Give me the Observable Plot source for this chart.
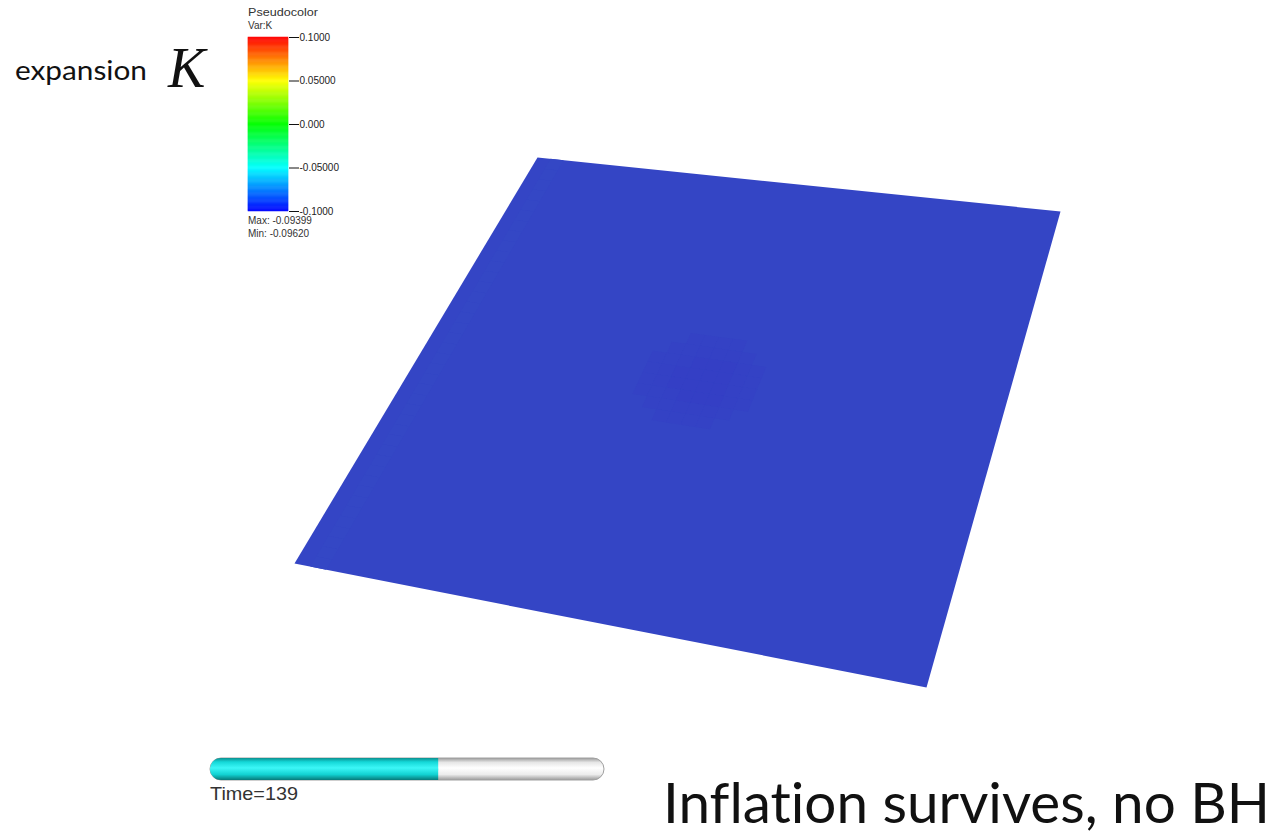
<!DOCTYPE html>
<html><head><meta charset="utf-8">
<script src="https://cdn.jsdelivr.net/npm/d3@7"></script>
<script src="https://cdn.jsdelivr.net/npm/@observablehq/plot@0.6"></script>
<style>
body{margin:0;background:#fff;}
#root{position:relative;width:1282px;height:834px;overflow:hidden;background:#fff;}
#root > *{position:absolute;}
text{font-variant-ligatures:none;font-feature-settings:"liga" 0,"clig" 0,"dlig" 0;}
</style></head><body><div id="root"></div>
<script>
// ---------------- data ----------------
const legendTitle = ["Pseudocolor", "Var:K"];
const legendTicks = [0.1, 0.05, 0, -0.05, -0.1];
const legendTickLabels = ["0.1000", "0.05000", "0.000", "-0.05000", "-0.1000"];
const dataMax = "-0.09399";
const dataMin = "-0.09620";
// K levels used by the grid codes below (0 = background, 1-3 = central dip, 4 = faint stripe)
const kLevels = [-0.09450, -0.09520, -0.09575, -0.09620, -0.09399];
const kGrid = [
"0400000000000000000000000000000000000000",
"0400000000000000000000000000000000000000",
"0400000000000000000000000000000000000000",
"0400000000000000000000000000000000000000",
"0400000000000000000000000000000000000000",
"0400000000000000000000000000000000000000",
"0400000000000000000000000000000000000000",
"0400000000000000000000000000000000000000",
"0400000000000000000000000000000000000000",
"0400000000000000000000000000000000000000",
"0400000000000000000000000000000000000000",
"0400000000000000000000000000000000000000",
"0400000000000000000000000000000000000000",
"0400000000000000000000000000000000000000",
"0400000000000000011110000000000000000000",
"0400000000000000112221000000000000000000",
"0400000000000001123332100000000000000000",
"0400000000000001233332100000000000000000",
"0400000000000001233332100000000000000000",
"0400000000000001123332100000000000000000",
"0400000000000000112221000000000000000000",
"0400000000000000011110000000000000000000",
"0400000000000000000000000000000000000000",
"0400000000000000000000000000000000000000",
"0400000000000000000000000000000000000000",
"0400000000000000000000000000000000000000",
"0400000000000000000000000000000000000000",
"0400000000000000000000000000000000000000",
"0400000000000000000000000000000000000000",
"0400000000000000000000000000000000000000",
"0400000000000000000000000000000000000000",
"0400000000000000000000000000000000000000",
"0400000000000000000000000000000000000000",
"0400000000000000000000000000000000000000",
"0400000000000000000000000000000000000000",
"0400000000000000000000000000000000000000",
"0400000000000000000000000000000000000000",
"0400000000000000000000000000000000000000",
"0400000000000000000000000000000000000000",
"0400000000000000000000000000000000000000"
];
const timeNow = 139;
const timeEnd = 240;
const timeLabel = "Time=139";
const titleWord = "expansion";
const titleSymbol = "K";
const caption = "Inflation survives, no BH";

// ---------------- helpers ----------------
const root = document.getElementById("root");
const hot = d3.piecewise(d3.interpolateRgb, ["#0000ff", "#00ffff", "#00ff00", "#ffff00", "#ff0000"]);
const shaded = t => { const c = d3.rgb(hot(t)); return d3.rgb(52 + 0.57 * c.r, 52 + 0.6 * c.g, 52 + 0.57 * c.b).formatHex(); };

// build features in (u,v) parameter space: full plane at background level, then the other cells
const nRows = kGrid.length, nCols = 40;
const square = (u0, v0, u1, v1) => ({type: "Polygon", coordinates: [[[u0, v0], [u1, v0], [u1, v1], [u0, v1], [u0, v0]]]});
const planeBase = [{type: "Feature", properties: {k: kLevels[0]}, geometry: square(0, 0, 1, 1)}];
const cells = [];
kGrid.forEach((rowStr, r) => {
  const row = rowStr.padEnd(nCols, "0");
  for (let c = 0; c < nCols; c++) {
    if (row[c] === "0") continue;
    cells.push({type: "Feature", properties: {k: kLevels[+row[c]]},
      geometry: square(c / nCols, r / nRows, (c + 1) / nCols, (r + 1) / nRows)});
  }
});

// view of the plane (screen corners of the tilted square)
const view = {tl: [537, 157], tr: [1060, 211], br: [926, 687], bl: [294, 563]};
const planeProjection = d3.geoTransform({
  point(u, v) {
    const a = (1 - u) * (1 - v), b = u * (1 - v), c = u * v, d = (1 - u) * v;
    this.stream.point(a * view.tl[0] + b * view.tr[0] + c * view.br[0] + d * view.bl[0],
                      a * view.tl[1] + b * view.tr[1] + c * view.br[1] + d * view.bl[1]);
  }
});

// ---------------- main surface ----------------
const main = Plot.plot({
  width: 1282, height: 834, margin: 0,
  style: {background: "transparent"},
  projection: planeProjection,
  color: {type: "linear", domain: [-0.1, 0.1], interpolate: shaded},
  marks: [
    Plot.geo(planeBase, {fill: d => d.properties.k}),
    Plot.geo(cells, {fill: d => d.properties.k})
  ]
});
main.style.left = "0px"; main.style.top = "0px";
root.appendChild(main);

// ---------------- colour bar legend ----------------
const rampBands = d3.range(-0.1, 0.1, 0.001).map(v => ({y1: v, y2: v + 0.001}));
const legend = Plot.plot({
  width: 120, height: 250,
  marginLeft: 8, marginRight: 72, marginTop: 37, marginBottom: 39,
  style: {background: "transparent", fontFamily: "'Liberation Sans', Arial, sans-serif", fontSize: "10px", color: "#222"},
  x: {domain: [0, 1], axis: null},
  y: {domain: [-0.1, 0.1]},
  color: {type: "linear", domain: [-0.1, 0.1], interpolate: hot},
  marks: [
    Plot.rect(rampBands, {x1: 0, x2: 1, y1: "y1", y2: "y2", fill: d => (d.y1 + d.y2) / 2, stroke: d => (d.y1 + d.y2) / 2, strokeWidth: 0.5}),
    Plot.axisY(legendTicks, {anchor: "right", tickSize: 10, tickPadding: 1, label: null, stroke: "#111",
      tickFormat: d => legendTickLabels[legendTicks.indexOf(d)], fontSize: 10, fill: "#222"})
  ]
});
legend.style.left = "240px"; legend.style.top = "0px";
root.appendChild(legend);

// ---------------- time slider ----------------
const gradDefs = () => {
  const defs = d3.create("svg:defs");
  const g1 = defs.append("linearGradient").attr("id", "cyanGrad").attr("x1", 0).attr("y1", 0).attr("x2", 0).attr("y2", 1);
  [[0, "#0b8f8f"], [0.18, "#14d8d8"], [0.45, "#3cf7f7"], [0.75, "#12d2d2"], [1, "#077a7a"]].forEach(([o, c]) => g1.append("stop").attr("offset", o).attr("stop-color", c));
  const g2 = defs.append("linearGradient").attr("id", "trackGrad").attr("x1", 0).attr("y1", 0).attr("x2", 0).attr("y2", 1);
  [[0, "#9c9c9c"], [0.2, "#e6e6e6"], [0.45, "#ffffff"], [0.75, "#ececec"], [1, "#9a9a9a"]].forEach(([o, c]) => g2.append("stop").attr("offset", o).attr("stop-color", c));
  return defs.node();
};
const slider = Plot.plot({
  width: 400, height: 26, marginLeft: 3, marginRight: 3, marginTop: 2, marginBottom: 2,
  style: {background: "transparent"},
  x: {domain: [0, timeEnd], axis: null},
  marks: [
    gradDefs,
    Plot.barX([timeEnd], {x: d => d, fill: "url(#trackGrad)", stroke: "#a0a0a0", strokeWidth: 1, rx: 11}),
    Plot.barX([timeNow], {x: d => d, fill: "url(#cyanGrad)", rx: 11}),
    Plot.barX([timeNow], {x1: d => d / 2, x2: d => d, fill: "url(#cyanGrad)"})
  ]
});
slider.style.left = "207px"; slider.style.top = "756px";
root.appendChild(slider);

// ---------------- texts ----------------
const svg = d3.select(root).append("svg").attr("width", 1282).attr("height", 834)
  .style("left", "0px").style("top", "0px").style("pointer-events", "none");
svg.append("text").text(titleWord).attr("x", 15).attr("y", 80)
  .attr("font-family", "Lato, 'Open Sans', sans-serif").attr("font-size", 27).attr("fill", "#111")
  .attr("textLength", 132).attr("lengthAdjust", "spacingAndGlyphs");
svg.append("text").text(titleSymbol).attr("x", 168).attr("y", 87)
  .attr("font-family", "'Liberation Serif', 'DejaVu Serif', serif").attr("font-style", "italic")
  .attr("font-size", 56).attr("fill", "#111");
svg.append("text").text(legendTitle[0]).attr("x", 248).attr("y", 16)
  .attr("font-family", "'Liberation Sans', Arial, sans-serif").attr("font-size", 10).attr("fill", "#333")
  .attr("textLength", 70).attr("lengthAdjust", "spacingAndGlyphs");
svg.append("text").text(legendTitle[1]).attr("x", 248).attr("y", 29)
  .attr("font-family", "'Liberation Sans', Arial, sans-serif").attr("font-size", 10).attr("fill", "#333");
svg.append("text").text("Max: " + dataMax).attr("x", 248).attr("y", 224)
  .attr("font-family", "'Liberation Sans', Arial, sans-serif").attr("font-size", 10).attr("fill", "#333");
svg.append("text").text("Min: " + dataMin).attr("x", 248).attr("y", 237)
  .attr("font-family", "'Liberation Sans', Arial, sans-serif").attr("font-size", 10).attr("fill", "#333");
svg.append("text").text(timeLabel).attr("x", 210).attr("y", 800)
  .attr("font-family", "'Liberation Sans', Arial, sans-serif").attr("font-size", 19).attr("fill", "#333")
  .attr("textLength", 88).attr("lengthAdjust", "spacingAndGlyphs");
svg.append("text").text(caption).attr("x", 663).attr("y", 823)
  .attr("font-family", "Lato, 'Open Sans', sans-serif").attr("font-size", 57).attr("fill", "#111")
  .attr("textLength", 607).attr("lengthAdjust", "spacingAndGlyphs");
</script>
</body></html>
